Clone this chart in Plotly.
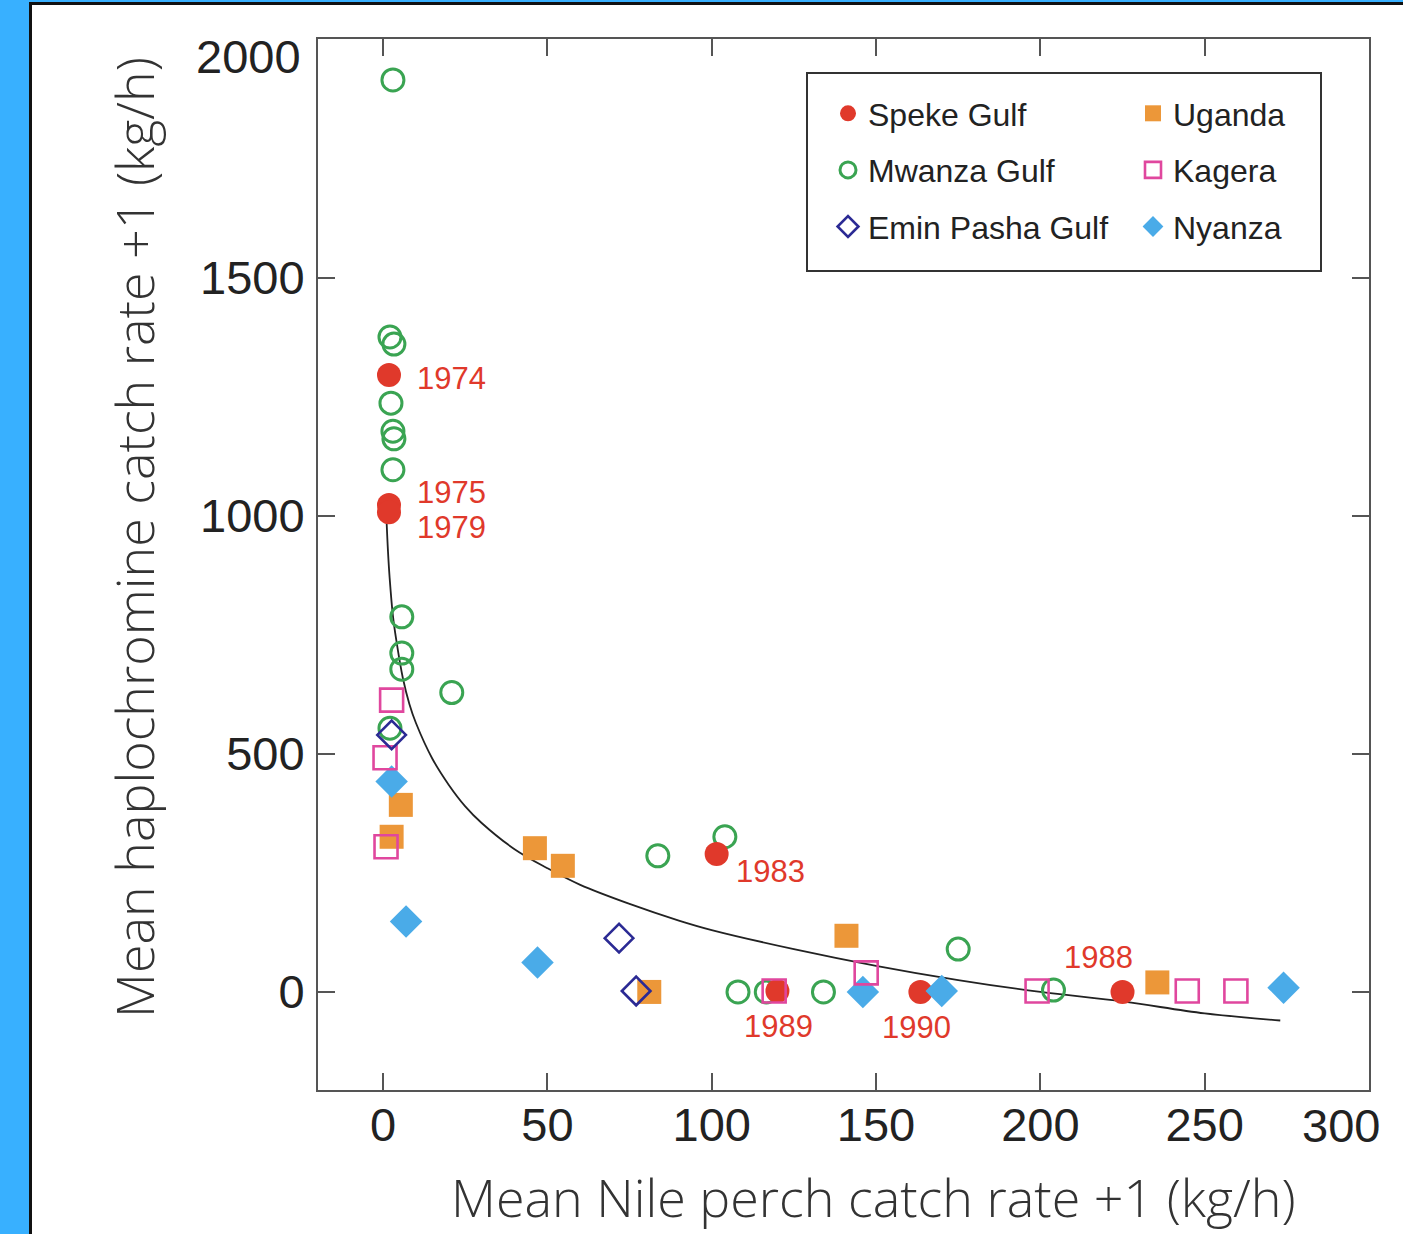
import plotly.graph_objects as go

# ---------------- data ----------------
speke_x = [1.8, 1.8, 1.8, 101.5, 120, 163.5, 225]
speke_y = [1296, 1023, 1008, 290, 2, 0, 0]
speke_labels = ["1974", "1975", "1979", "1983", "1989", "1990", "1988"]

mwanza_x = [3, 2.1, 3.3, 2.4, 3.0, 3.3, 3.0, 5.7, 5.7, 5.7, 20.9, 2.1, 83.6, 104, 108, 116.6, 134, 175, 204]
mwanza_y = [1916, 1376, 1361, 1237, 1178, 1162, 1097, 788, 712, 678, 629, 554, 286, 326, 0, 0, 0, 90, 4]

emin_x = [2.6, 71.8, 77]
emin_y = [540, 113, 2]

uganda_x = [5.4, 2.6, 46.2, 54.7, 81, 141, 235.6]
uganda_y = [393, 326, 302, 265, 0, 118, 20]

kagera_x = [2.6, 0.6, 0.9, 119, 147, 199, 244.7, 259.5]
kagera_y = [613, 492, 305, 2, 40, 2, 2, 2]

nyanza_x = [2.6, 7, 47, 146, 170, 274]
nyanza_y = [442, 148, 62, 0, 2, 9]

# fitted curve
curve_x = [1, 1.5, 2, 3, 4, 6, 8, 10, 15, 20, 25, 30, 40, 50, 60, 75, 90, 100, 125, 150, 175, 200, 225, 250, 273]
curve_y = [1000, 925, 870, 790, 740, 660, 605, 565, 490, 435, 390, 355, 300, 260, 225, 185, 150, 130, 90, 55, 25, 0, -20, -45, -60]

x_ticks = [0, 50, 100, 150, 200, 250, 300]
y_ticks = [0, 500, 1000, 1500, 2000]

x_title = "Mean Nile perch catch rate +1 (kg/h)"
y_title = "Mean haplochromine catch rate +1 (kg/h)"

# ---------------- styling ----------------
RED = "#e0392b"
GREEN = "#3aa452"
NAVY = "#2b2a94"
ORANGE = "#ec9739"
MAGENTA = "#e0479e"
LBLUE = "#4aabe8"
HELV = "Liberation Sans, Arial, Helvetica, sans-serif"
TITLEFONT = "Open Sans, Noto Sans, sans-serif"
TICKSIZE = 47

L, R, B, T = 318, 1369, 1090, 39
W, H = 1403, 1234
def px(v):
    return (v - L) / (R - L)
def py(v):
    return (B - v) / (B - T)

fig = go.Figure()

fig.add_trace(go.Scatter(x=curve_x, y=curve_y, mode="lines",
                         line=dict(color="#222", width=1.8, shape="spline"),
                         showlegend=False, hoverinfo="skip"))

fig.add_trace(go.Scatter(x=mwanza_x, y=mwanza_y, mode="markers", name="Mwanza Gulf",
                         legend="legend", legendgroup="mw", legendrank=2,
                         marker=dict(symbol="circle-open", size=22, color=GREEN,
                                     line=dict(width=3, color=GREEN))))
fig.add_trace(go.Scatter(x=speke_x, y=speke_y, mode="markers", name="Speke Gulf",
                         legend="legend", legendgroup="sp", legendrank=1,
                         marker=dict(symbol="circle", size=24, color=RED)))
fig.add_trace(go.Scatter(x=uganda_x, y=uganda_y, mode="markers", name="Uganda",
                         legend="legend2", legendgroup="ug", legendrank=1,
                         marker=dict(symbol="square", size=24, color=ORANGE)))
fig.add_trace(go.Scatter(x=nyanza_x, y=nyanza_y, mode="markers", name="Nyanza",
                         legend="legend2", legendgroup="ny", legendrank=3,
                         marker=dict(symbol="diamond", size=25, color=LBLUE)))
fig.add_trace(go.Scatter(x=kagera_x, y=kagera_y, mode="markers", name="Kagera",
                         legend="legend2", legendgroup="ka", legendrank=2,
                         marker=dict(symbol="square-open", size=23, color=MAGENTA,
                                     line=dict(width=2.6, color=MAGENTA))))
fig.add_trace(go.Scatter(x=emin_x, y=emin_y, mode="markers", name="Emin Pasha Gulf",
                         legend="legend", legendgroup="em", legendrank=3,
                         marker=dict(symbol="diamond-open", size=22, color=NAVY,
                                     line=dict(width=2.6, color=NAVY))))

# year labels next to the Speke Gulf points
label_offsets = {
    "1974": (26, -3, "left"),
    "1975": (26, 13, "left"),
    "1979": (26, -15, "left"),
    "1983": (17, -18, "left"),
    "1989": (1, -36, "center"),
    "1990": (-4, -36, "center"),
    "1988": (-24, 34, "center"),
}
for xv, yv, lab in zip(speke_x, speke_y, speke_labels):
    dx, dy, anc = label_offsets[lab]
    fig.add_annotation(x=xv, y=yv, text=lab, showarrow=False,
                       xshift=dx, yshift=dy, xanchor=anc, yanchor="middle",
                       font=dict(family=HELV, size=31, color=RED))

# edge tick labels (shifted inward as in the original)
fig.add_annotation(x=x_ticks[-1], y=0, yref="paper", xref="x", text=str(x_ticks[-1]),
                   showarrow=False, xanchor="center", yanchor="top", xshift=-28, yshift=-7,
                   font=dict(family=HELV, size=TICKSIZE, color="#222"))
fig.add_annotation(x=0, xref="paper", y=y_ticks[-1], yref="y", text=str(y_ticks[-1]),
                   showarrow=False, xanchor="right", yanchor="middle", xshift=-15, yshift=-17,
                   font=dict(family=HELV, size=TICKSIZE, color="#222"))

# axis titles
fig.add_annotation(x=px(873), y=py(1196), xref="paper", yref="paper", text=x_title,
                   showarrow=False, xanchor="center", yanchor="middle",
                   font=dict(family=TITLEFONT, size=52, color="#333", weight=300))
fig.add_annotation(x=px(133), y=py(538), xref="paper", yref="paper", text=y_title,
                   showarrow=False, xanchor="center", yanchor="middle", textangle=-90,
                   font=dict(family=TITLEFONT, size=52, color="#333", weight=300))

# legend frame
fig.add_shape(type="rect", xref="paper", yref="paper", x0=px(807), x1=px(1321), y0=py(271), y1=py(73),
              fillcolor="white", line=dict(color="#333", width=2), layer="below")

# frame of the screenshot (blue border with dark edge)
fig.add_shape(type="rect", xref="paper", yref="paper", x0=px(0), x1=px(29), y0=py(H), y1=py(0),
              fillcolor="#38b0ff", line_width=0, layer="below")
fig.add_shape(type="rect", xref="paper", yref="paper", x0=px(0), x1=px(W), y0=py(2), y1=py(0),
              fillcolor="#38b0ff", line_width=0, layer="below")
fig.add_shape(type="line", xref="paper", yref="paper", x0=px(30.5), x1=px(30.5), y0=py(H), y1=py(3.5),
              line=dict(color="#111", width=3), layer="below")
fig.add_shape(type="line", xref="paper", yref="paper", x0=px(29), x1=px(W), y0=py(3.5), y1=py(3.5),
              line=dict(color="#111", width=3), layer="below")

axis_common = dict(showgrid=False, zeroline=False, showline=True, linecolor="#555", linewidth=2,
                   ticks="inside", ticklen=17, tickwidth=2, tickcolor="#555", mirror="ticks",
                   tickfont=dict(family=HELV, size=TICKSIZE, color="#222"))

legend_common = dict(orientation="v", xanchor="left", yanchor="top",
                     bgcolor="rgba(0,0,0,0)", borderwidth=0, tracegroupgap=12,
                     font=dict(family=HELV, size=32, color="#222"), itemsizing="trace")

fig.update_layout(
    width=W, height=H,
    margin=dict(l=L, r=W - R, t=T, b=H - B),
    paper_bgcolor="white", plot_bgcolor="white",
    xaxis=dict(range=[-19.8, 300], tickvals=x_ticks,
               ticktext=[str(v) for v in x_ticks[:-1]] + [""],
               ticklabelstandoff=-7, **axis_common),
    yaxis=dict(range=[-206, 2002], tickvals=y_ticks,
               ticktext=[str(v) for v in y_ticks[:-1]] + [""],
               ticklabelstandoff=2, **axis_common),
    legend=dict(x=px(828), y=py(86), **legend_common),
    legend2=dict(x=px(1133), y=py(86), **legend_common),
    showlegend=True,
)

fig.write_html("out.html", config={"displayModeBar": False},
               post_script="document.body.style.margin='0px';document.body.style.overflow='hidden';")
